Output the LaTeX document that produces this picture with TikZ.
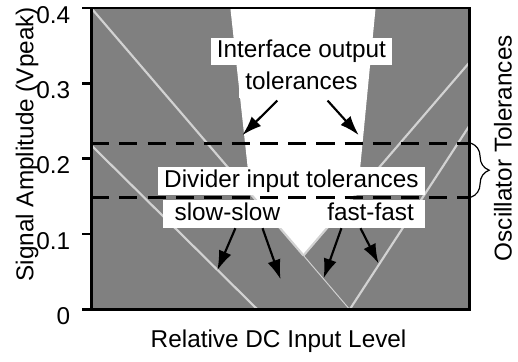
\documentclass[tikz,border=0pt]{standalone}
\usepackage{fontspec}
\setmainfont{Liberation Sans}
\usetikzlibrary{arrows.meta,decorations.pathreplacing,calc}

\definecolor{plotgray}{RGB}{128,128,128}
\definecolor{linegray}{RGB}{210,210,210}

\tikzset{
	lbl/.style={fill=white, inner xsep=2.6pt, inner ysep=1pt, text height=0.75em, text depth=0.22em},
	tip/.style={-{Latex[length=8.2pt,width=5.6pt]}, line width=0.9pt},
	tolline/.style={line width=1.2pt, dash pattern=on 7.6pt off 4.2pt},
	curve/.style={linegray, line width=0.9pt}
}

\begin{document}
\begin{tikzpicture}[x=0.37cm, y=0.37cm, font=\fontsize{10.2}{12}\selectfont]
	\useasboundingbox (-3.63,-2.07) rectangle (16.99,12.32);

	%Shading
	\fill[plotgray] (0,0) rectangle (15.07,12);
	\fill[white] (5.54,12) -- (6.34,4.63) -- (8.45,2.15) -- (10.61,4.63) -- (11.32,12) -- cycle;

	%Plot divider lines
	\draw[curve] (0,12) -- (8.45,2.15);
	\draw[linegray, line width=0.4pt] (8.45,2.15) -- (10.29,0);
	\draw[curve] (15.07,9.85) -- (8.45,2.15);
	\draw[curve] (0,6.54) -- (6.62,0);
	\draw[curve] (10.29,0) -- (15.07,7.34);

	%Tolerance limits
	\draw[tolline] (0,6.62) -- (15.07,6.62);
	\draw[tolline] (0,4.47) -- (15.07,4.47);
	\draw[decorate, decoration={brace, amplitude=7.6pt}, line width=0.5pt] (15.12,6.62) -- (15.12,4.47);

	% Draw axes
	\draw[line width=1.1pt] (0,0) rectangle (15.07,12);
	\foreach \y/\t in {0/0, 3/0.1, 6/0.2, 9/0.3, 12/0.4} {
		\draw[line width=1.1pt] (-0.36,\y) -- (0,\y);
		\node[anchor=east] (tick\y) at (-0.5,\y-0.27) {\t};
	}
	\node[rotate=90] (ylabel) at (-2.55,6.58) {Signal Amplitude (Vpeak)};
	\node (xlabel) at (7.46,-1.28) {Relative DC Input Level};
	\node[rotate=90] (osc) at (16.39,6.42) {Oscillator Tolerances};

	%Labels
	\node[lbl] (iface) at (8.37,10.27) {Interface output};
	\node[lbl] (tol) at (8.37,8.99) {tolerances};
	\node[lbl] (divider) at (7.97,5.10) {Divider input tolerances};
	\node[lbl, minimum width=53.8pt] (slow) at (5.42,3.81) {slow-slow};
	\node[lbl, minimum width=46pt] (fast) at (11.12,3.81) {fast-fast};

	%Arrows
	\coordinate (ifL) at (6.02,6.94);
	\coordinate (ifR) at (10.65,6.94);
	\coordinate (ssA) at (5.02,1.56);
	\coordinate (ssB) at (7.54,1.20);
	\coordinate (ffA) at (9.25,1.24);
	\coordinate (ffB) at (11.44,1.83);
	\draw[tip] ($(tol.south)+(-0.96,-0.1)$) -- (ifL);
	\draw[tip] ($(tol.south)+(1.04,-0.1)$) -- (ifR);
	\draw[tip] ($(slow.south)+(0.32,0)$) -- (ssA);
	\draw[tip] ($(slow.south)+(1.40,0)$) -- (ssB);
	\draw[tip] ($(fast.south)+(-1.16,0)$) -- (ffA);
	\draw[tip] ($(fast.south)+(-0.40,0)$) -- (ffB);

\end{tikzpicture}
\end{document}
